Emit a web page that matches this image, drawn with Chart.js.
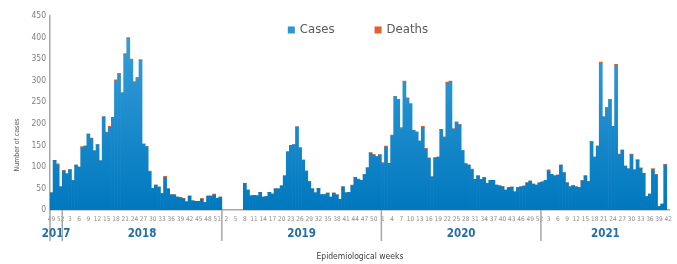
<!DOCTYPE html>
<html>
<head>
<meta charset="utf-8">
<script src="https://cdn.jsdelivr.net/npm/chart.js@4.4.1/dist/chart.umd.min.js"></script>
<style>
  html, body { margin: 0; padding: 0; background: #fff; }
  #wrap { width: 677px; height: 264px; position: relative; }
</style>
</head>
<body>
<div id="wrap"><canvas id="weeklyChart"></canvas></div>
<script>
// epidemiological weeks shown for each year
const years = ['2017', '2018', '2019', '2020', '2021'];
const yearFirstWeek = [49, 1, 1, 1, 1];
const yearLastWeek = [52, 52, 52, 52, 42];

// weekly cases
const cases2017 = [40, 115, 105, 54];
const cases2018 = [90, 84, 94, 68, 104, 99, 144, 148, 176, 165, 137, 152, 114, 216, 179, 192, 215, 299, 314, 272,
  360, 397, 347, 295, 305, 347, 153, 147, 88, 50, 58, 53, 38, 75, 49, 35, 35, 30, 29, 26,
  19, 32, 21, 20, 20, 25, 17, 32, 32, 35, 27, 30];
const cases2019 = [null, null, null, null, null, null, null, 62, 46, 33, 34, 33, 41, 30, 31, 41, 37, 49, 49, 56,
  79, 135, 150, 152, 193, 144, 116, 90, 66, 49, 40, 50, 36, 36, 39, 30, 39, 35, 25, 54,
  40, 41, 56, 76, 70, 69, 82, 98, 132, 127, 124, 128];
const cases2020 = [107, 146, 108, 172, 263, 256, 189, 296, 258, 246, 185, 181, 160, 192, 141, 119, 77, 121, 123, 187,
  168, 294, 297, 187, 204, 197, 138, 106, 104, 93, 71, 79, 71, 75, 62, 69, 69, 58, 56, 53,
  46, 52, 53, 42, 52, 54, 55, 63, 67, 60, 58, 63];
const cases2021 = [64, 69, 91, 83, 79, 81, 104, 87, 63, 54, 56, 54, 52, 67, 79, 66, 157, 123, 148, 340,
  216, 235, 256, 194, 335, 128, 139, 102, 95, 128, 93, 115, 96, 85, 31, 37, 94, 81, 8, 14,
  104, null];

// weekly deaths
const deaths2017 = [0, 0, 2, 0];
const deaths2018 = [2, 0, 0, 0, 0, 1, 3, 0, 0, 2, 0, 0, 0, 0, 2, 2, 0, 3, 3, 0,
  3, 3, 3, 3, 3, 2, 0, 0, 2, 0, 0, 0, 0, 3, 0, 0, 0, 0, 0, 1,
  0, 0, 0, 0, 0, 2, 0, 0, 0, 2, 0, 0];
const deaths2019 = [null, null, null, null, null, null, null, 0, 0, 0, 0, 0, 0, 0, 0, 0, 0, 0, 0, 0,
  0, 0, 0, 0, 0, 0, 0, 0, 0, 0, 0, 0, 0, 0, 0, 0, 0, 0, 0, 0,
  0, 0, 2, 0, 2, 0, 0, 0, 1, 2, 0, 0];
const deaths2020 = [3, 2, 0, 2, 0, 0, 2, 3, 2, 0, 0, 0, 0, 2, 2, 2, 0, 0, 0, 0,
  2, 3, 2, 2, 0, 2, 0, 2, 0, 2, 0, 0, 0, 1, 0, 0, 0, 0, 0, 2,
  0, 0, 0, 0, 0, 0, 1, 0, 0, 0, 0, 0];
const deaths2021 = [2, 0, 2, 0, 0, 0, 0, 0, 0, 0, 1, 0, 0, 2, 0, 0, 2, 0, 0, 3,
  0, 3, 0, 0, 3, 2, 0, 0, 1, 2, 0, 2, 2, 0, 0, 0, 2, 2, 0, 0,
  2, null];

const casesColor = '#2b97d5';
const deathsColor = '#e4602a';
const FONT = '"Liberation Sans Narrow", "DejaVu Sans Condensed", "Open Sans", sans-serif';

const weekLabels = [];
years.forEach((yr, i) => {
  for (let w = yearFirstWeek[i]; w <= yearLastWeek[i]; w++) weekLabels.push(String(w));
});
const casesData = [].concat(cases2017, cases2018, cases2019, cases2020, cases2021);
const deathsData = [].concat(deaths2017, deaths2018, deaths2019, deaths2020, deaths2021);

let gradCache = null;
function casesFill(context) {
  const chart = context.chart;
  const area = chart.chartArea;
  if (!area) return casesColor;
  if (!gradCache || gradCache.top !== area.top || gradCache.bottom !== area.bottom) {
    const g = chart.ctx.createLinearGradient(0, area.top, 0, area.bottom);
    g.addColorStop(0, '#3da2dc');
    g.addColorStop(1, '#0078be');
    gradCache = { top: area.top, bottom: area.bottom, g: g };
  }
  return gradCache.g;
}

// year labels, separators, y title and legend drawn over the chart
const extras = {
  id: 'extras',
  afterDraw(chart) {
    const ctx = chart.ctx;
    const x = chart.scales.x;
    const area = chart.chartArea;
    const step = x.getPixelForValue(1) - x.getPixelForValue(0);
    ctx.save();
    ctx.strokeStyle = '#a6a6a6';
    ctx.lineWidth = 1.5;
    ctx.fillStyle = '#246fa8';
    ctx.font = 'bold 11.5px ' + FONT;
    ctx.textAlign = 'center';
    ctx.textBaseline = 'middle';
    let start = 0;
    years.forEach((yr, i) => {
      const count = yearLastWeek[i] - yearFirstWeek[i] + 1;
      const left = x.getPixelForValue(start) - step / 2;
      const right = x.getPixelForValue(start + count - 1) + step / 2;
      ctx.beginPath();
      ctx.moveTo(left, area.bottom);
      ctx.lineTo(left, area.bottom + 31);
      ctx.stroke();
      ctx.fillText(yr, (left + right) / 2, area.bottom + 24.5);
      start += count;
    });

    // y axis title
    ctx.save();
    ctx.translate(17, 145);
    ctx.rotate(-Math.PI / 2);
    ctx.fillStyle = '#595959';
    ctx.font = '7px ' + FONT;
    ctx.fillText('Number of cases', 0, 0);
    ctx.restore();

    // legend
    ctx.font = '13px ' + FONT;
    ctx.textAlign = 'left';
    const items = [['Cases', casesColor], ['Deaths', deathsColor]];
    const box = 7, gap = 5, spacing = 40;
    let total = 0;
    items.forEach((it, k) => {
      total += box + gap + ctx.measureText(it[0]).width + (k ? spacing : 0);
    });
    let lx = (area.left + area.right) / 2 - total / 2 - 2;
    const ly = 30;
    items.forEach(it => {
      ctx.fillStyle = it[1];
      ctx.fillRect(lx, ly - box / 2, box, box);
      ctx.fillStyle = '#595959';
      ctx.fillText(it[0], lx + box + gap, ly);
      lx += box + gap + ctx.measureText(it[0]).width + spacing;
    });
    ctx.restore();
  }
};

const ctx = document.getElementById('weeklyChart').getContext('2d');
const weeklyChart = new Chart(ctx, {
  type: 'bar',
  data: {
    labels: weekLabels,
    datasets: [
      {
        label: 'Cases',
        data: casesData,
        backgroundColor: casesFill,
        barPercentage: 1,
        categoryPercentage: 1
      },
      {
        label: 'Deaths',
        data: deathsData,
        backgroundColor: deathsColor,
        barPercentage: 1,
        categoryPercentage: 1
      }
    ]
  },
  options: {
    responsive: true,
    maintainAspectRatio: false,
    animation: false,
    layout: { padding: { top: 16, right: 1, left: 0, bottom: 0 } },
    plugins: {
      legend: { display: false },
      tooltip: { enabled: false }
    },
    scales: {
      x: {
        stacked: true,
        grid: { display: false, drawTicks: false },
        border: { display: true, color: '#a6a6a6', width: 1.5 },
        ticks: {
          autoSkip: false,
          maxRotation: 0,
          minRotation: 0,
          padding: 5,
          color: '#8c8c8c',
          font: { family: FONT, size: 6.5 },
          callback: function (value, index) {
            return index % 3 === 0 ? this.getLabelForValue(value) : '';
          }
        },
        title: {
          display: true,
          text: 'Epidemiological weeks',
          color: '#404040',
          font: { family: FONT, size: 8.5 },
          padding: { top: 0, bottom: 2 }
        },
        afterFit(scale) { scale.height = 54; }
      },
      y: {
        stacked: true,
        min: 0,
        max: 450,
        grid: { display: false, drawTicks: false },
        border: { display: true, color: '#a6a6a6', width: 1.5 },
        ticks: {
          stepSize: 50,
          padding: 4,
          color: '#808080',
          font: { family: FONT, size: 8.5 }
        },
        afterFit(scale) { scale.width = 50; }
      }
    }
  },
  plugins: [extras]
});
</script>
</body>
</html>
